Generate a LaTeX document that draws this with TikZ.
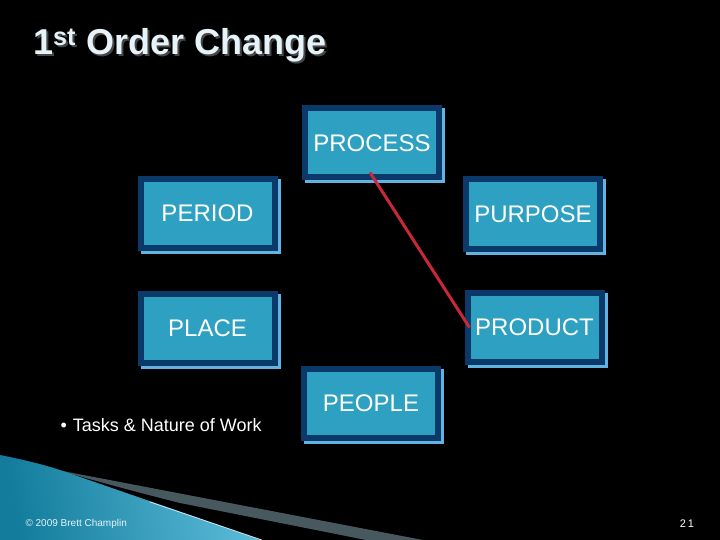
\documentclass[tikz,border=0pt]{standalone}
\usepackage{fontspec}
\setmainfont{Liberation Sans}
\definecolor{navy}{HTML}{0B3A6A}
\definecolor{tealin}{HTML}{2EA0C2}
\definecolor{shadowc}{HTML}{62B2E2}
\definecolor{redline}{HTML}{C9273A}
\definecolor{titlec}{HTML}{E6F3F9}
\definecolor{stripe}{HTML}{48585F}
\definecolor{tealdark}{HTML}{137C9C}
\definecolor{teallight}{HTML}{5CBCD9}
\begin{document}
\begin{tikzpicture}[x=1pt,y=-1pt,
  pbox/.style={draw=navy, fill=tealin, line width=6pt, minimum width=134pt,
    minimum height=69pt, inner sep=0pt, outer sep=0pt, text=white,
    font=\fontsize{24}{28}\selectfont},
  shadowbox/.style={fill=shadowc},
  link/.style={draw=redline, line width=3pt},
  titletext/.style={anchor=base west, inner sep=0pt, font=\fontsize{36}{40}\selectfont\bfseries}
]
\useasboundingbox (0,0) rectangle (720,540);
\fill[black] (0,0) rectangle (720,540);

% bottom-left decoration
\fill[stripe] (52,469) -- (423,540) -- (366,540) -- (180,503) .. controls (120,488) and (80,476) .. (52,469) -- cycle;
\shade[left color=tealdark, right color=teallight, shading angle=100]
  (0,455) .. controls (25,460) and (45,465) .. (60,470) -- (262,540) -- (0,540) -- cycle;
\draw[white, opacity=0.7, line width=0.8pt] (150,502) -- (262,540);

% title
\node[titletext, text=black!72!white] (titleshadow) at (35,57) {1\textsuperscript{st} Order Change};
\node[titletext, text=titlec] (title) at (33,55) {1\textsuperscript{st} Order Change};

% shadows
\foreach \cx/\cy in {372/143, 207.5/213.5, 533/214, 207.5/328, 534.5/327.5, 371/403.5}
  \fill[shadowbox] (\cx-67,\cy-34.5) rectangle (\cx+73,\cy+40.5);

% boxes
\node[pbox] (process) at (372,143) {PROCESS};
\node[pbox] (period) at (207.5,213.5) {PERIOD};
\node[pbox] (purpose) at (533,214) {PURPOSE};
\node[pbox] (place) at (207.5,328) {PLACE};
\node[pbox] (product) at (534.5,327.5) {PRODUCT};
\node[pbox] (people) at (371,403.5) {PEOPLE};

% connector
\draw[link] ([xshift=-2pt,yshift=5pt]process.south) -- ([xshift=2pt]product.west);

% bullet text
\node[anchor=west, text=white, font=\fontsize{18}{21}\selectfont] (tasks) at (57,425) {\textbullet\hspace{6pt}Tasks \& Nature of Work};

% footer
\node[anchor=west, text=titlec, font=\fontsize{10}{12}\selectfont] (copy) at (22,524) {© 2009 Brett Champlin};
\node[text=white, font=\fontsize{11}{13}\selectfont] (pagenum) at (687,524) {2\hspace{2pt}1};
\end{tikzpicture}
\end{document}
